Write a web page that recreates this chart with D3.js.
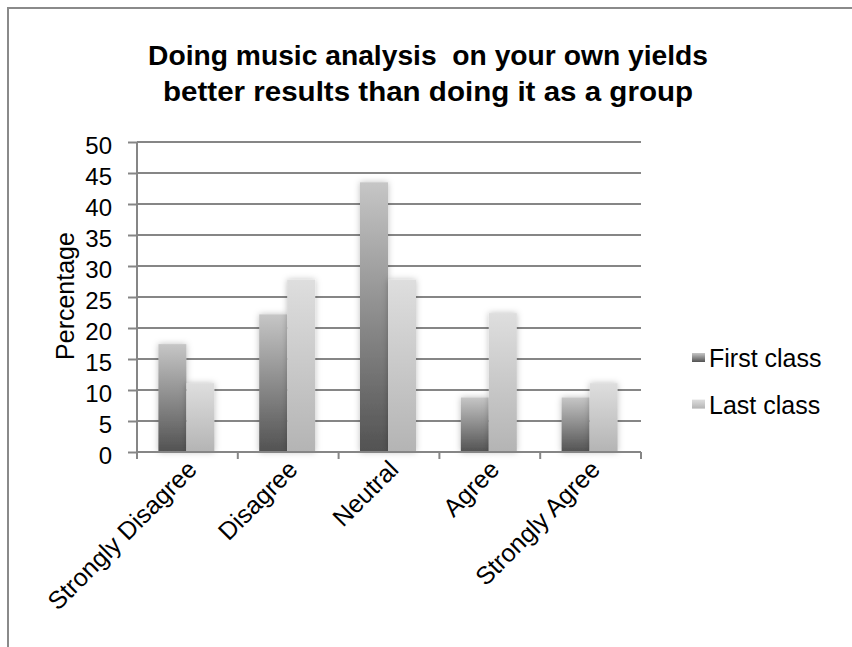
<!DOCTYPE html>
<html><head><meta charset="utf-8">
<script src="https://cdn.jsdelivr.net/npm/d3@7"></script>
<style>body{margin:0;background:#fff}svg{display:block;font-family:"Liberation Sans",Arial,sans-serif}</style>
</head><body><svg id="c" width="852" height="647"></svg>
<script>
const categories = ["Strongly Disagree","Disagree","Neutral","Agree","Strongly Agree"];
const seriesNames = ["First class","Last class"];
const firstClass = [17.4, 22.2, 43.5, 8.8, 8.8];
const lastClass = [11.1, 27.8, 27.8, 22.4, 11.1];
const yTicks = [0,5,10,15,20,25,30,35,40,45,50];
const titleLines = ["Doing music analysis  on your own yields","better results than doing it as a group"];

const svg = d3.select("#c");
const defs = svg.append("defs");
const g1 = defs.append("linearGradient").attr("id","gFirst").attr("x1",0).attr("y1",1).attr("x2",0).attr("y2",0);
g1.append("stop").attr("offset","0%").attr("stop-color","#525252");
g1.append("stop").attr("offset","100%").attr("stop-color","#c6c6c6");
const g2 = defs.append("linearGradient").attr("id","gLast").attr("x1",0).attr("y1",1).attr("x2",0).attr("y2",0);
g2.append("stop").attr("offset","0%").attr("stop-color","#b4b4b4");
g2.append("stop").attr("offset","100%").attr("stop-color","#dedede");
const f = defs.append("filter").attr("id","sh").attr("x","-30%").attr("y","-10%").attr("width","160%").attr("height","120%");
f.append("feDropShadow").attr("dx",0).attr("dy",0).attr("stdDeviation",3).attr("flood-color","#000").attr("flood-opacity",0.25);

// frame
svg.append("path").attr("d","M8,647 V8 H852").attr("fill","none").attr("stroke","#8a8a8a").attr("stroke-width",2);

// title
const tW = [560, 530];
svg.append("g").selectAll("text").data(titleLines).join("text")
  .attr("x",428).attr("y",(d,i)=>i?101:65).attr("text-anchor","middle")
  .attr("font-size",28).attr("font-weight","bold").attr("fill","#000")
  .attr("textLength",(d,i)=>tW[i]).attr("lengthAdjust","spacingAndGlyphs")
  .style("white-space","pre").text(d=>d);

const x0 = d3.scaleBand().domain(categories).range([137,641]).paddingInner(0).paddingOuter(0);
const x1 = d3.scaleBand().domain(seriesNames).range([0,56]);
const y = d3.scaleLinear().domain([0,50]).range([452,142]);

// gridlines
svg.append("g").selectAll("line").data(yTicks.filter(d=>d>0)).join("line")
  .attr("x1",137).attr("x2",641).attr("y1",d=>y(d)).attr("y2",d=>y(d))
  .attr("stroke","#868686").attr("stroke-width",2);

// bars
const series = [firstClass,lastClass];
const grads = ["url(#gFirst)","url(#gLast)"];
seriesNames.forEach((s,si)=>{
  svg.append("g").attr("filter","url(#sh)").selectAll("rect").data(categories).join("rect")
    .attr("x",(c)=>x0(c)+x0.bandwidth()/2-28+x1(s)-1)
    .attr("width",x1.bandwidth())
    .attr("y",(c,i)=>y(series[si][i]))
    .attr("height",(c,i)=>y(0)-y(series[si][i]))
    .attr("fill",grads[si]);
});

// y axis
const ya = svg.append("g").attr("transform","translate(137,0)")
  .call(d3.axisLeft(y).tickValues(yTicks).tickSize(9).tickPadding(16));
ya.select(".domain").attr("stroke","#868686").attr("stroke-width",2).attr("d","M0,142V452");
ya.selectAll(".tick line").attr("stroke","#868686").attr("stroke-width",2);
ya.selectAll(".tick text").attr("font-size",24).attr("dy","0.46em").attr("fill","#000").attr("font-family","Liberation Sans, Arial, sans-serif");

// x axis
const xa = svg.append("g").attr("transform","translate(0,452)")
  .call(d3.axisBottom(x0).tickSize(0).tickFormat(""));
xa.select(".domain").attr("stroke","#868686").attr("stroke-width",2).attr("d","M137,0H641");
svg.append("g").selectAll("line").data(d3.range(categories.length+1)).join("line")
  .attr("x1",i=>137+i*x0.bandwidth()).attr("x2",i=>137+i*x0.bandwidth())
  .attr("y1",452).attr("y2",459).attr("stroke","#868686").attr("stroke-width",2);
svg.append("g").selectAll("text").data(categories).join("text")
  .attr("transform",c=>`translate(${x0(c)+x0.bandwidth()/2+11},471) rotate(-45)`)
  .attr("text-anchor","end").attr("font-size",25).attr("fill","#000").text(d=>d);

// y title
svg.append("text").attr("transform","translate(74,296) rotate(-90)").attr("text-anchor","middle")
  .attr("font-size",25).attr("fill","#000").text("Percentage");

// legend
const lg = svg.append("g").selectAll("g").data(seriesNames).join("g")
  .attr("transform",(d,i)=>`translate(692,${367+i*46.6})`);
lg.append("rect").attr("x",0).attr("y",-14).attr("width",13).attr("height",9).attr("fill",(d,i)=>grads[i]);
lg.append("text").attr("x",17).attr("y",0).attr("font-size",25).attr("fill","#000").text(d=>d);
</script></body></html>
